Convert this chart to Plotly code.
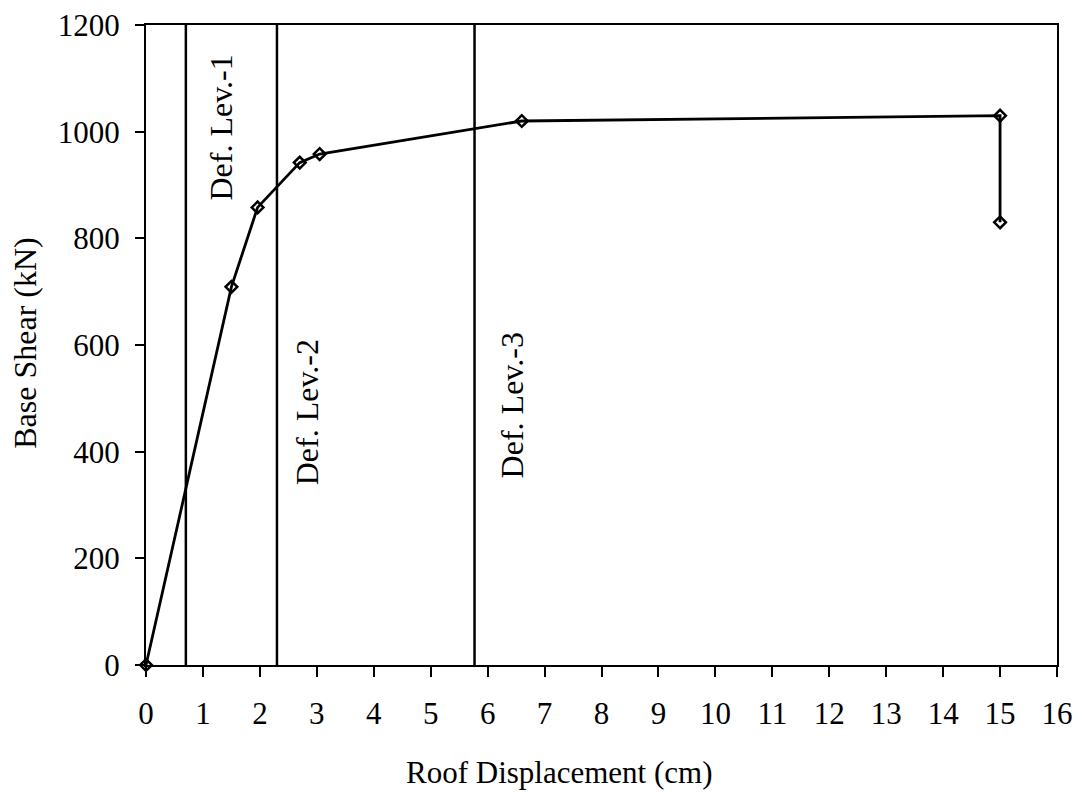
import plotly.graph_objects as go

# Pushover curve data
roof_disp = [0, 1.5, 1.96, 2.7, 3.05, 6.6, 15.0, 15.0]
base_shear = [0, 709, 858, 942, 958, 1020, 1030, 830]

# Deformation level lines
def_levels = [0.7, 2.3, 5.77]
def_labels = ["Def. Lev.-1", "Def. Lev.-2", "Def. Lev.-3"]
label_x = [1.31, 2.83, 6.43]
label_y = [1007, 474, 487]

x_ticks = list(range(0, 17))
y_ticks = [0, 200, 400, 600, 800, 1000, 1200]

FONT = "Liberation Serif, Times New Roman, serif"

fig = go.Figure()

for xv in def_levels:
    fig.add_trace(go.Scatter(x=[xv, xv], y=[0, 1200], mode="lines",
                             line=dict(color="black", width=2.5),
                             showlegend=False, hoverinfo="skip"))

fig.add_trace(go.Scatter(
    x=roof_disp, y=base_shear, mode="lines+markers", cliponaxis=False,
    line=dict(color="black", width=2.8),
    marker=dict(symbol="diamond-open", size=9, color="black",
                line=dict(color="black", width=2.5)),
    showlegend=False))

for t, xv, yv in zip(def_labels, label_x, label_y):
    fig.add_annotation(x=xv, y=yv, xref="x", yref="y", text=t,
                       textangle=-90, showarrow=False,
                       font=dict(family=FONT, size=32, color="black"))

fig.add_annotation(x=(559 - 146) / 911, y=(665 - 772) / 640,
                   xref="paper", yref="paper", text="Roof Displacement (cm)",
                   showarrow=False, xanchor="center", yanchor="middle",
                   font=dict(family=FONT, size=31, color="black"))
fig.add_annotation(x=(25 - 146) / 911, y=0.502,
                   xref="paper", yref="paper", text="Base Shear (kN)",
                   textangle=-90, showarrow=False, xanchor="center", yanchor="middle",
                   font=dict(family=FONT, size=32, color="black"))

fig.update_layout(
    width=1083, height=792,
    margin=dict(l=146, r=26, t=25, b=127, autoexpand=False),
    paper_bgcolor="white", plot_bgcolor="white",
    font=dict(family=FONT, size=31, color="black"),
    xaxis=dict(range=[0, 16], tickvals=x_ticks, ticktext=[str(v) for v in x_ticks],
               showgrid=False, zeroline=False, showline=True, mirror=True,
               linecolor="black", linewidth=2, ticks="outside", ticklen=10,
               tickwidth=1.5, tickcolor="black", ticklabelstandoff=10,
               ticklabeloverflow="allow", automargin=False),
    yaxis=dict(range=[0, 1200], tickvals=y_ticks, ticktext=[str(v) for v in y_ticks],
               showgrid=False, zeroline=False, showline=True, mirror=True,
               linecolor="black", linewidth=2, ticks="outside", ticklen=9,
               tickwidth=1.5, tickcolor="black", ticklabelstandoff=9,
               ticklabeloverflow="allow", automargin=False),
)

fig.write_html("out.html", config={"displayModeBar": False},
               post_script="document.body.style.margin='0';document.body.style.overflow='hidden';")
